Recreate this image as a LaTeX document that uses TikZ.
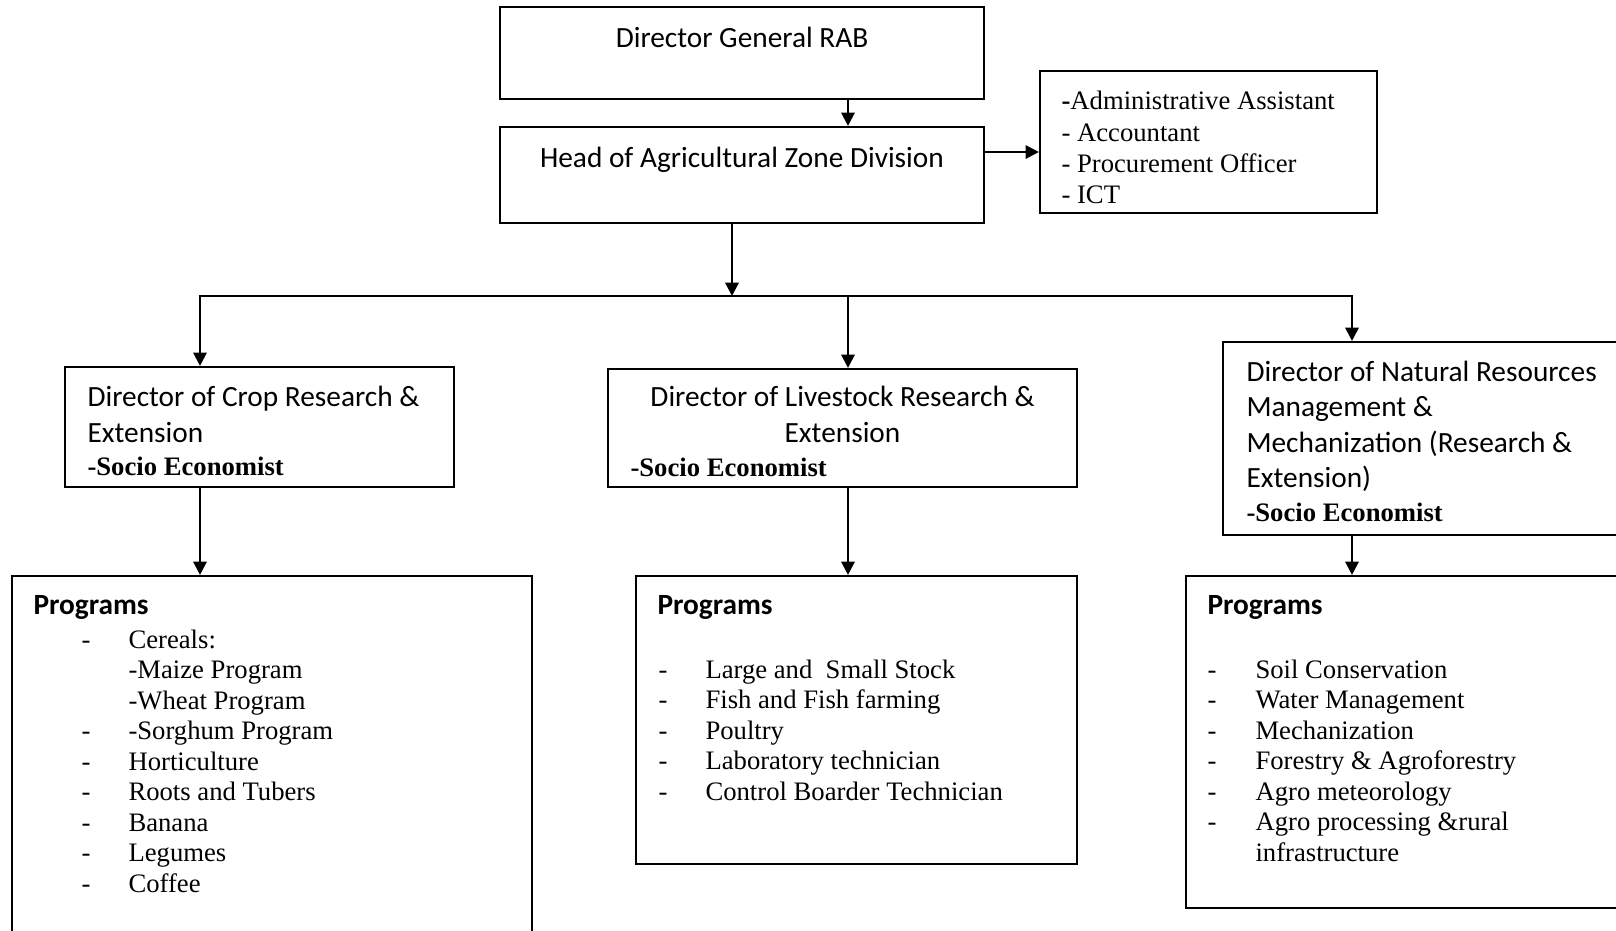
\documentclass[tikz,border=0pt]{standalone}
\usepackage{fontspec}
\setmainfont{Liberation Serif}
\newfontfamily\calfont{Carlito}
\usetikzlibrary{arrows.meta,fit}
\tikzset{
  box/.style={draw, line width=0.8pt, inner sep=0pt},
  ln/.style={line width=0.8pt, line cap=rect},
  arr/.style={line width=0.8pt, -{Triangle[length=5pt,width=5pt]}},
  cal/.style={font=\calfont\fontsize{11}{13.4}\selectfont, inner sep=0pt},
  calb/.style={font=\calfont\bfseries\fontsize{11}{13.4}\selectfont, inner sep=0pt},
  tnr/.style={font=\fontsize{10}{12}\selectfont, inner sep=0pt},
  tnrb/.style={font=\bfseries\fontsize{10}{12}\selectfont, inner sep=0pt},
}
\begin{document}
\begin{tikzpicture}[x=0.375pt,y=-0.375pt]
\useasboundingbox (0,0) rectangle (1616,930);
% boxes
\node[box, fit={(500,7) (984,99)}] (dg) {};
\node[box, fit={(500,127) (984,223)}] (head) {};
\node[box, fit={(1040,71) (1377,213)}] (adm) {};
\node[box, fit={(65,367) (454,487)}] (crop) {};
\node[box, fit={(608,369) (1077,487)}] (live) {};
\node[box, fit={(1223,342) (1650,535)}] (nr) {};
\node[box, fit={(12,576) (532,960)}] (p1) {};
\node[box, fit={(636,576) (1077,864)}] (p2) {};
\node[box, fit={(1186,576) (1650,908)}] (p3) {};
% connectors
\coordinate (c1) at (200,296);
\coordinate (c2) at (848,296);
\coordinate (c3) at (1352,296);
\coordinate (cb) at (732,296);
\draw[arr] (c2 |- dg.south) -- (c2 |- head.north);
\draw[arr] (head.east |- 0,152) -- (adm.west |- 0,152);
\draw[arr] (head.south -| cb) -- (cb);
\draw[ln] (c1) -- (c3);
\draw[arr] (c1) -- (c1 |- crop.north);
\draw[arr] (c2) -- (c2 |- live.north);
\draw[arr] (c3) -- (c3 |- nr.north);
\draw[arr] (c1 |- crop.south) -- (c1 |- p1.north);
\draw[arr] (c2 |- live.south) -- (c2 |- p2.north);
\draw[arr] (c3 |- nr.south) -- (c3 |- p3.north);
% top texts
\node[cal, anchor=base] (tdg) at (742,47) {Director General RAB};
\node[cal, anchor=base] (thead) at (742,167) {Head of Agricultural Zone Division};
\node[tnr, anchor=base west] (a1) at (1061,109) {\textbf{-}Administrative Assistant};
\node[tnr, anchor=base west] (a2) at (1061,141) {- Accountant};
\node[tnr, anchor=base west] (a3) at (1061,172) {- Procurement Officer};
\node[tnr, anchor=base west] (a4) at (1061,203) {- ICT};
% crop
\node[cal, anchor=base west] (cr1) at (87,406) {Director of Crop Research \&};
\node[cal, anchor=base west] (cr2) at (87,442) {Extension};
\node[tnrb, anchor=base west] (cr3) at (87,475) {-Socio Economist};
% livestock
\node[cal, anchor=base] (lv1) at (842.5,406) {Director of Livestock Research \&};
\node[cal, anchor=base] (lv2) at (842.5,442) {Extension};
\node[tnrb, anchor=base west] (lv3) at (630,476) {-Socio Economist};
% natural resources
\node[cal, anchor=base west] (n1) at (1246,381) {Director of Natural Resources};
\node[cal, anchor=base west] (n2) at (1246,416) {Management \&};
\node[cal, anchor=base west] (n3) at (1246,452) {Mechanization (Research \&};
\node[cal, anchor=base west] (n4) at (1246,487) {Extension)};
\node[tnrb, anchor=base west] (n5) at (1246,521) {-Socio Economist};
% programs headings
\node[calb, anchor=base west] (ph1) at (33,614) {Programs};
\node[calb, anchor=base west] (ph2) at (657,614) {Programs};
\node[calb, anchor=base west] (ph3) at (1207,614) {Programs};
% left list
\foreach \t [count=\i from 0] in {Cereals:, -Maize Program, -Wheat Program, -Sorghum Program, Horticulture, Roots and Tubers, Banana, Legumes, Coffee}
  \node[tnr, anchor=base west] (la\i) at (128,{648+30.5*\i}) {\t};
\foreach \i in {0,3,4,5,6,7,8}
  \node[tnr, anchor=base west] (ld\i) at (81,{648+30.5*\i}) {-};
% middle list
\foreach \t [count=\i from 0] in {Large and\ \ Small Stock, Fish and Fish farming, Poultry, Laboratory technician, Control Boarder Technician}
  {\node[tnr, anchor=base west] (ma\i) at (705,{678+30.5*\i}) {\t};
   \node[tnr, anchor=base west] (md\i) at (658,{678+30.5*\i}) {-};}
% right list
\foreach \t [count=\i from 0] in {Soil Conservation, Water Management, Mechanization, Forestry \& Agroforestry, Agro meteorology, Agro processing \&rural, infrastructure}
  \node[tnr, anchor=base west] (ra\i) at (1255,{678+30.5*\i}) {\t};
\foreach \i in {0,...,5}
  \node[tnr, anchor=base west] (rd\i) at (1207,{678+30.5*\i}) {-};
\end{tikzpicture}
\end{document}
